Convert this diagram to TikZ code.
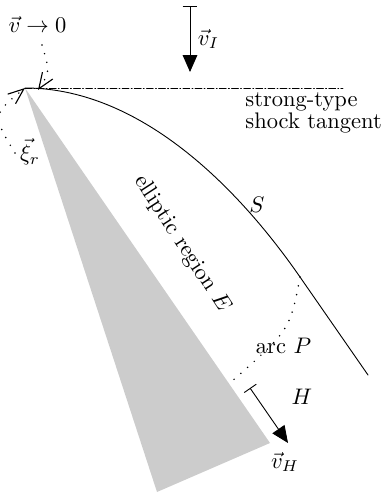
\documentclass[tikz,border=0pt]{standalone}
\usepackage{amsfonts,amsmath,amssymb}
\usepackage{tikz}
\usetikzlibrary{arrows.meta}
\tikzset{
  every picture/.style={line join=round, line cap=round, >=Stealth},
  dotline/.style={dash pattern=on 0pt off 4pt, line width=0.75pt},
  velarrow/.style={{Bar[width=6.5pt]}-{Triangle[length=7.5pt,width=6.5pt]}},
  barbarrow/.style={-{Straight Barb[length=7pt,width=5.5pt,line width=0.5pt]}},
}

\begin{document}
\begin{tikzpicture}[x=0.4444pt,y=-0.4444pt]
\useasboundingbox (0,0) rectangle (381,495);
\coordinate (tip) at (25,88);
\coordinate (bend) at (300,277);
\coordinate (send) at (368,375);
\coordinate (tanend) at (343,88);
\coordinate (near) at (38,90);
\coordinate (vstart) at (42,45);
\coordinate (xistart) at (15,153);
\coordinate (arcend) at (231,382);
\coordinate (vItop) at (190,6);
\coordinate (vIbot) at (190,72);
\coordinate (vHtop) at (250,388);
\coordinate (vHbot) at (288,443);
\fill[gray!40](tip)--(157,492)--(270,443)--cycle;
\draw(tip)..controls(135,88)and(232,179)..(bend)--(send);
\draw[densely dash dot](tip)--(tanend);
\node[anchor=base west,inner sep=0pt](tanA) at (245,107){strong-type};
\node[anchor=base west,inner sep=0pt](tanB) at (245,128.5){shock tangent};
\node[anchor=base](vzero) at (37.5,32.5){$\vec{v}\to 0$};
\draw[dotline,barbarrow](vstart)..controls(50,72)..(near);
\node(xilab) at (30,152){$\vec{\xi}_r$};
\draw[dotline,barbarrow](xistart)..controls(-8,115)..(tip);
\draw[velarrow](vItop)--(vIbot)node[midway,right]{$\vec{v}_I$};
\draw[velarrow](vHtop)--(vHbot);
\node(vHlab) at (285,462){$\vec{v}_H$};
\node(Hlab) at (302,397){$H$};
\node(Slab) at (257,205){$S$};
\draw[dotline](bend)..controls(290,330)..(arcend);
\node[anchor=base](arclab) at (283.5,353){arc $P$};
\node[rotate=-57](Elab) at (182,244){elliptic region $E$};
\end{tikzpicture}
\end{document}
